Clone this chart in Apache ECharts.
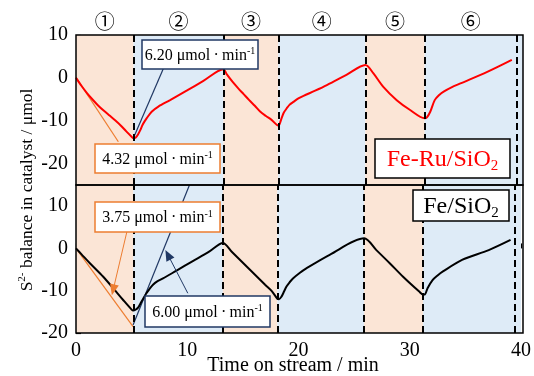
<!DOCTYPE html>
<html>
<head>
<meta charset="utf-8">
<script src="https://cdn.jsdelivr.net/npm/echarts@6/dist/echarts.min.js"></script>
<style>
html, body { margin: 0; padding: 0; background: #fff; }
#main { width: 534px; height: 376px; }
</style>
</head>
<body>
<div id="main"></div>
<script>
// phases of the run (min)
var phaseEdges = [0, 5.15, 13.2, 18.1, 25.9, 31.2, 40];
var dashLines = [5.15, 13.2, 18.1, 25.9, 31.2, 39.45];
var phaseNames = ['①', '②', '③', '④', '⑤', '⑥'];

// Fe-Ru/SiO2 (upper panel)
var feRuTime = [0, 0.5, 1, 1.5, 2, 2.5, 3, 3.5, 4, 4.5, 5, 5.15,
  5.35, 5.55, 5.75, 5.95, 6.15, 6.33, 6.77, 7.37, 8.42, 9.9, 11.4, 13.2,
  13.5, 14, 14.5, 15, 15.5, 16, 16.5, 17, 17.5, 18.1,
  18.2, 18.4, 18.6, 18.86, 19.1, 19.46, 19.9, 20.36, 21.4, 22.45, 24.2, 25.9,
  26.6, 27.5, 28.7, 29.9, 31.2,
  31.4, 31.7, 32.1, 32.5, 32.9, 33.6, 34.4, 36.8, 39.0];
var feRuBal = [0, -1.9, -3.6, -5.1, -6.5, -7.7, -8.8, -9.9, -11.1, -12.5, -13.8, -14.1,
  -13.9, -13.2, -12.2, -11.0, -10.1, -9.4, -7.9, -6.7, -5.2, -3.0, -0.7, 2.0,
  0.8, -0.9, -2.4, -3.8, -5.2, -6.5, -7.9, -8.9, -9.8, -11.1,
  -10.9, -9.4, -8.1, -7.1, -6.3, -5.6, -4.8, -4.2, -3.0, -1.7, 0.7, 3.0,
  1.1, -2.1, -5.2, -7.5, -9.4,
  -9.2, -7.9, -5.2, -4.0, -3.2, -2.2, -1.3, 1.4, 4.2];

// Fe/SiO2 (lower panel)
var feTime = [0, 0.5, 1.25, 2.45, 3.34, 4.24, 4.98, 5.15,
  5.35, 5.58, 5.88, 6.1, 6.33, 6.6, 6.92, 7.3, 7.82, 9, 10.5, 12, 13.2,
  14, 15, 16, 17, 17.6, 18.1,
  18.25, 18.47, 18.7, 18.92, 19.2, 19.5, 20.1, 20.7, 22.8, 25.9,
  27.0, 28.2, 29.4, 30.85, 31.2,
  31.35, 31.6, 32.05, 32.5, 32.95, 34.7, 37.1, 39.06];
var feBal = [0, -1.4, -3.5, -6.7, -9.4, -12.2, -14.4, -14.7,
  -14.5, -14.0, -12.6, -11.6, -10.6, -9.6, -8.6, -7.8, -7.1, -5.3, -3.0, -0.7, 1.3,
  -0.8, -3.4, -6.0, -8.6, -10.1, -11.9,
  -12.0, -11.4, -10.2, -9.0, -8.0, -7.1, -5.8, -4.7, -1.5, 2.4,
  -0.4, -3.5, -6.7, -10.2, -10.9,
  -10.9, -9.4, -7.5, -6.4, -5.5, -2.7, -0.4, 2.0];

// initial / recovery slopes drawn as straight lines
var ruDownLine = [[0, 0.1], [3.79, -14.9]];
var ruUpLine = [[5.13, -14.1], [7.82, 2.2]];
var feDownLine = [[0, 0], [5.13, -18.5]];
var feUpLine = [[5.13, -18.1], [10.2, 15]];
var feDownArrow = [[4.57, 3.9], [3.34, -9.8]];
var feUpArrow = [[10.05, -10.6], [8.26, -1.5]];

var ORANGE = '#ED7D31', NAVY = '#203864';
var SERIF = '"Liberation Serif", "Times New Roman", serif';

function zip(a, b) {
  var out = [];
  for (var i = 0; i < a.length; i++) out.push([a[i], b[i]]);
  return out;
}

function areas() {
  var d = [];
  for (var i = 0; i < phaseEdges.length - 1; i++) {
    d.push([{ xAxis: phaseEdges[i], itemStyle: { color: i % 2 ? '#DEEBF7' : '#FBE5D6' } },
            { xAxis: phaseEdges[i + 1] }]);
  }
  return d;
}

function backdrop(idx) {
  return {
    type: 'line', xAxisIndex: idx, yAxisIndex: idx, data: [], z: 1, silent: true,
    markArea: { silent: true, data: areas() },
    markLine: {
      silent: true, symbol: 'none', label: { show: false },
      lineStyle: { color: '#000', type: [7, 4], width: 2 },
      data: dashLines.map(function (x) { return { xAxis: x }; })
    }
  };
}

function straight(idx, pts, color) {
  return {
    type: 'line', xAxisIndex: idx, yAxisIndex: idx, data: pts, z: 3, silent: true,
    showSymbol: false, symbol: 'none', lineStyle: { color: color, width: 1.2 }
  };
}

function arrow(idx, pts, color) {
  return {
    type: 'line', xAxisIndex: idx, yAxisIndex: idx, data: [], z: 3, silent: true,
    markLine: {
      silent: true, symbol: ['none', 'triangle'], symbolSize: [9, 11], label: { show: false },
      lineStyle: { color: color, width: 1, type: 'solid' },
      data: [[{ coord: pts[0] }, { coord: pts[1] }]]
    }
  };
}

var myChart = echarts.init(document.getElementById('main'));

var tickLabel = { fontFamily: SERIF, fontSize: 20, color: '#000', margin: 8 };

var option = {
  animation: false,
  grid: [
    { left: 76, right: 11, top: 35, height: 150 },
    { left: 76, right: 11, top: 185, height: 148 }
  ],
  xAxis: [
    { type: 'value', gridIndex: 0, min: 0, max: 40, interval: 10,
      axisLine: { show: false }, axisTick: { show: false },
      axisLabel: { show: false }, splitLine: { show: false } },
    { type: 'value', gridIndex: 1, min: 0, max: 40, interval: 10,
      axisLine: { show: false },
      axisTick: { inside: true, length: 5, lineStyle: { color: '#000', width: 1.2 } },
      axisLabel: tickLabel, splitLine: { show: false } }
  ],
  yAxis: [
    { type: 'value', gridIndex: 0, min: -25, max: 10,
      axisLine: { show: false },
      axisTick: { inside: true, length: 5, customValues: [-20, -10, 0, 10], lineStyle: { color: '#000', width: 1.2 } },
      axisLabel: Object.assign({ customValues: [-20, -10, 0, 10] }, tickLabel),
      splitLine: { show: false } },
    { type: 'value', gridIndex: 1, min: -20, max: 15,
      axisLine: { show: false },
      axisTick: { inside: true, length: 5, customValues: [-20, -10, 0, 10], lineStyle: { color: '#000', width: 1.2 } },
      axisLabel: Object.assign({ customValues: [-20, -10, 0, 10] }, tickLabel),
      splitLine: { show: false } }
  ],
  series: [
    backdrop(0),
    backdrop(1),
    { name: 'Fe-Ru/SiO2', type: 'line', xAxisIndex: 0, yAxisIndex: 0, z: 4,
      data: zip(feRuTime, feRuBal), showSymbol: false, symbol: 'none', smooth: 0.3,
      lineStyle: { color: '#FF0000', width: 2 } },
    { name: 'Fe/SiO2', type: 'line', xAxisIndex: 1, yAxisIndex: 1, z: 4,
      data: zip(feTime, feBal), showSymbol: false, symbol: 'none', smooth: 0.3,
      lineStyle: { color: '#000', width: 2 } },
    straight(0, ruDownLine, ORANGE),
    straight(0, ruUpLine, NAVY),
    straight(1, feDownLine, ORANGE),
    straight(1, feUpLine, NAVY),
    arrow(1, feDownArrow, ORANGE),
    arrow(1, feUpArrow, NAVY)
  ]
};
myChart.setOption(option);

// boxes, frames and titles (flat list so every element keeps its own z)
var graphics = [];

function frame(x, y, w, h) {
  graphics.push({ type: 'rect', z: 30, shape: { x: x, y: y, width: w, height: h },
    style: { fill: 'none', stroke: '#000', lineWidth: 1.5 } });
}

function rateBox(x, y, w, h, color, value) {
  graphics.push({ type: 'rect', z: 20, shape: { x: x, y: y, width: w, height: h },
    style: { fill: '#fff', stroke: color, lineWidth: 1.5 } });
  graphics.push({ type: 'text', z: 21, x: x + w / 2, y: y + h / 2 + 1,
    style: { text: '{t|' + value + ' μmol\u2009·\u2009min}{s|-1}', align: 'center', verticalAlign: 'middle',
      rich: { t: { fontFamily: SERIF, fontSize: 16, fill: '#000', lineHeight: 18 },
              s: { fontFamily: SERIF, fontSize: 10, fill: '#000', lineHeight: 18, verticalAlign: 'top' } } } });
}

function nameBox(x, y, w, h, color, base) {
  graphics.push({ type: 'rect', z: 20, shape: { x: x, y: y, width: w, height: h },
    style: { fill: '#fff', stroke: '#000', lineWidth: 1.5 } });
  graphics.push({ type: 'text', z: 21, x: x + w / 2, y: y + h / 2 + 1,
    style: { text: '{t|' + base + '}{s|2}', align: 'center', verticalAlign: 'middle',
      rich: { t: { fontFamily: SERIF, fontSize: 24, fill: color, lineHeight: 28 },
              s: { fontFamily: SERIF, fontSize: 15, fill: color, lineHeight: 28, verticalAlign: 'bottom' } } } });
}

frame(76, 35, 447, 150);
frame(76, 185, 447, 148);
rateBox(142, 40, 116, 29, NAVY, '6.20');
rateBox(95, 144, 125, 29, ORANGE, '4.32');
rateBox(95, 202, 125, 30, ORANGE, '3.75');
rateBox(145, 296, 125, 31, NAVY, '6.00');
nameBox(375, 139, 135, 39, '#FF0000', 'Fe-Ru/SiO');
nameBox(413, 190, 96, 31, '#000', 'Fe/SiO');

graphics.push({ type: 'text', x: 27, y: 190, rotation: Math.PI / 2, z: 20,
  style: { text: '{t|S}{s|2-}{t| balance in catalyst / μmol}', align: 'center', verticalAlign: 'middle',
    rich: { t: { fontFamily: SERIF, fontSize: 17.5, fill: '#000', lineHeight: 21 },
            s: { fontFamily: SERIF, fontSize: 11, fill: '#000', lineHeight: 21, verticalAlign: 'top' } } } });
graphics.push({ type: 'text', x: 293, y: 366, z: 20,
  style: { text: 'Time on stream / min', align: 'center', verticalAlign: 'middle',
    fontFamily: SERIF, fontSize: 20, fill: '#000' } });

for (var i = 0; i < phaseNames.length; i++) {
  var mid = (phaseEdges[i] + phaseEdges[i + 1]) / 2;
  if (i === phaseNames.length - 1) mid = (phaseEdges[i] + dashLines[i]) / 2;
  var px = myChart.convertToPixel({ xAxisIndex: 0 }, mid);
  graphics.push({ type: 'text', x: px, y: 21, z: 20,
    style: { text: phaseNames[i], align: 'center', verticalAlign: 'middle',
      fontFamily: '"Noto Sans CJK JP", "DejaVu Sans", sans-serif', fontSize: 20, fill: '#000' } });
}

myChart.setOption({ graphic: graphics });
</script>
</body>
</html>
